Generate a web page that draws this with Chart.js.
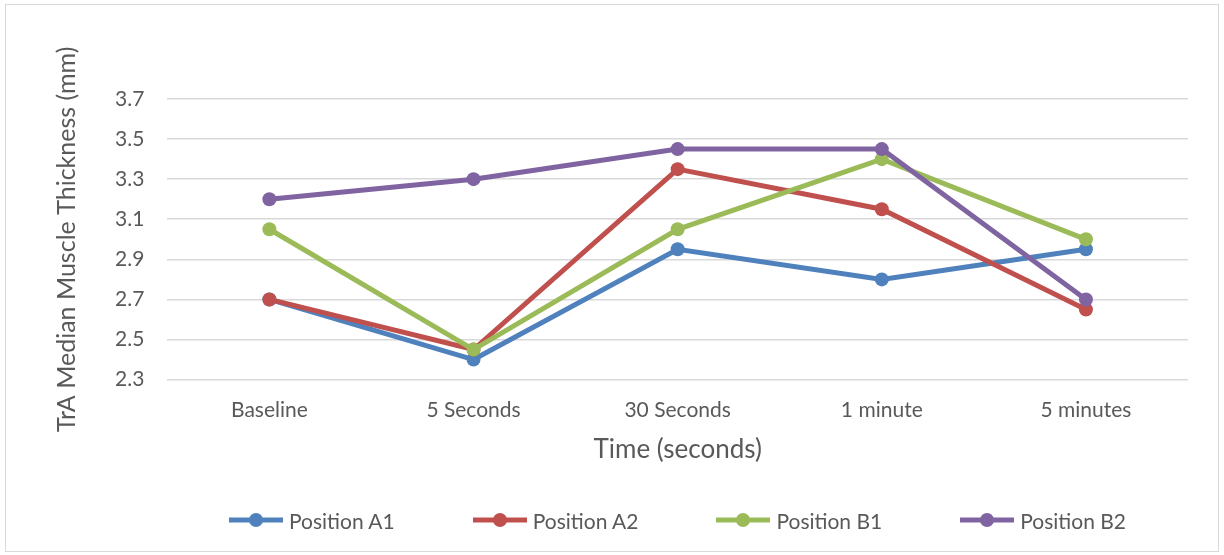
<!DOCTYPE html>
<html>
<head>
<meta charset="utf-8">
<script src="https://cdn.jsdelivr.net/npm/chart.js@4/dist/chart.umd.min.js"></script>
<style>
  html, body { margin: 0; padding: 0; background: #fff; }
  #wrap { position: relative; width: 1224px; height: 555px; }
  canvas { display: block; position: absolute; left: 0; top: 0; }
  #frame {
    position: absolute; left: 5px; top: 4px; width: 1214px; height: 548px;
    border: 1px solid #d9d9d9; box-sizing: border-box; pointer-events: none;
  }
  #legend {
    position: absolute; left: 166px; width: 1022px; top: 505px; height: 30px;
    display: flex; justify-content: center; align-items: center; gap: 77px;
    font-family: Lato, "Open Sans", sans-serif; font-size: 21px; color: #595959;
  }
  #legend .item { display: flex; align-items: center; white-space: nowrap; }
  #legend canvas { position: static; margin-right: 5px; }
</style>
</head>
<body>
<div id="wrap">
  <canvas id="chart" width="1224" height="555"></canvas>
  <div id="frame"></div>
  <div id="legend"></div>
</div>
<script>
// Time points and median TrA thickness (mm) per position
const categories = ['Baseline', '5 Seconds', '30 Seconds', '1 minute', '5 minutes'];
const positionA1 = [2.70, 2.40, 2.95, 2.80, 2.95];
const positionA2 = [2.70, 2.45, 3.35, 3.15, 2.65];
const positionB1 = [3.05, 2.45, 3.05, 3.40, 3.00];
const positionB2 = [3.20, 3.30, 3.45, 3.45, 2.70];
const seriesNames = ['Position A1', 'Position A2', 'Position B1', 'Position B2'];
const yTicks = [2.3, 2.5, 2.7, 2.9, 3.1, 3.3, 3.5, 3.7];

const colors = ['#4f81bd', '#c0504d', '#9bbb59', '#8064a2'];
const seriesData = [positionA1, positionA2, positionB1, positionB2];
const FONT = 'Lato, "Open Sans", sans-serif';
const TEXT = '#595959';

const datasets = seriesNames.map((name, i) => ({
  label: name,
  data: seriesData[i],
  borderColor: colors[i],
  backgroundColor: colors[i],
  borderWidth: 5,
  pointRadius: 7,
  pointHoverRadius: 7,
  pointBorderWidth: 0,
  tension: 0,
  // later series are painted on top
  order: seriesNames.length - i
}));

// legend rendered as HTML from the chart's own legend items
const htmlLegend = {
  id: 'htmlLegend',
  afterUpdate(chart) {
    const box = document.getElementById('legend');
    box.innerHTML = '';
    chart.options.plugins.legend.labels.generateLabels(chart).forEach((item) => {
      const row = document.createElement('div');
      row.className = 'item';
      const sw = document.createElement('canvas');
      sw.width = 56; sw.height = 16;
      const g = sw.getContext('2d');
      g.strokeStyle = item.strokeStyle; g.lineWidth = 5;
      g.beginPath(); g.moveTo(1, 8); g.lineTo(55, 8); g.stroke();
      g.fillStyle = item.fillStyle;
      g.beginPath(); g.arc(28, 8, 7, 0, Math.PI * 2); g.fill();
      const label = document.createElement('span');
      label.textContent = item.text;
      row.appendChild(sw); row.appendChild(label);
      box.appendChild(row);
    });
  }
};

new Chart(document.getElementById('chart'), {
  type: 'line',
  data: { labels: categories, datasets },
  plugins: [htmlLegend],
  options: {
    responsive: false,
    animation: false,
    layout: { padding: { left: 52, top: 99, right: 36, bottom: 90 } },
    plugins: {
      tooltip: { enabled: false },
      legend: {
        display: false,
        labels: {
          generateLabels: (chart) => chart.data.datasets.map((d, i) => ({
            text: d.label, fillStyle: d.borderColor, strokeStyle: d.borderColor, datasetIndex: i
          }))
        }
      }
    },
    scales: {
      x: {
        offset: true,
        grid: { display: false, drawTicks: false },
        border: { display: false },
        ticks: { color: TEXT, font: { family: FONT, size: 21 }, padding: 18 },
        title: {
          display: true, text: 'Time (seconds)', color: TEXT,
          font: { family: FONT, size: 26 }, padding: { top: -7, bottom: 0 }
        }
      },
      y: {
        min: 2.3, max: 3.7,
        afterBuildTicks: (axis) => { axis.ticks = yTicks.map(v => ({ value: v })); },
        grid: { color: '#d9d9d9', lineWidth: 1.6, drawTicks: false },
        border: { display: false },
        ticks: {
          color: TEXT, font: { family: FONT, size: 21 }, padding: 23,
          callback: (v) => Number(v).toFixed(1)
        },
        title: {
          display: true, text: 'TrA Median Muscle Thickness (mm)', color: TEXT,
          font: { family: FONT, size: 25 }, padding: { top: 0, bottom: 10 }
        }
      }
    }
  }
});
</script>
</body>
</html>
